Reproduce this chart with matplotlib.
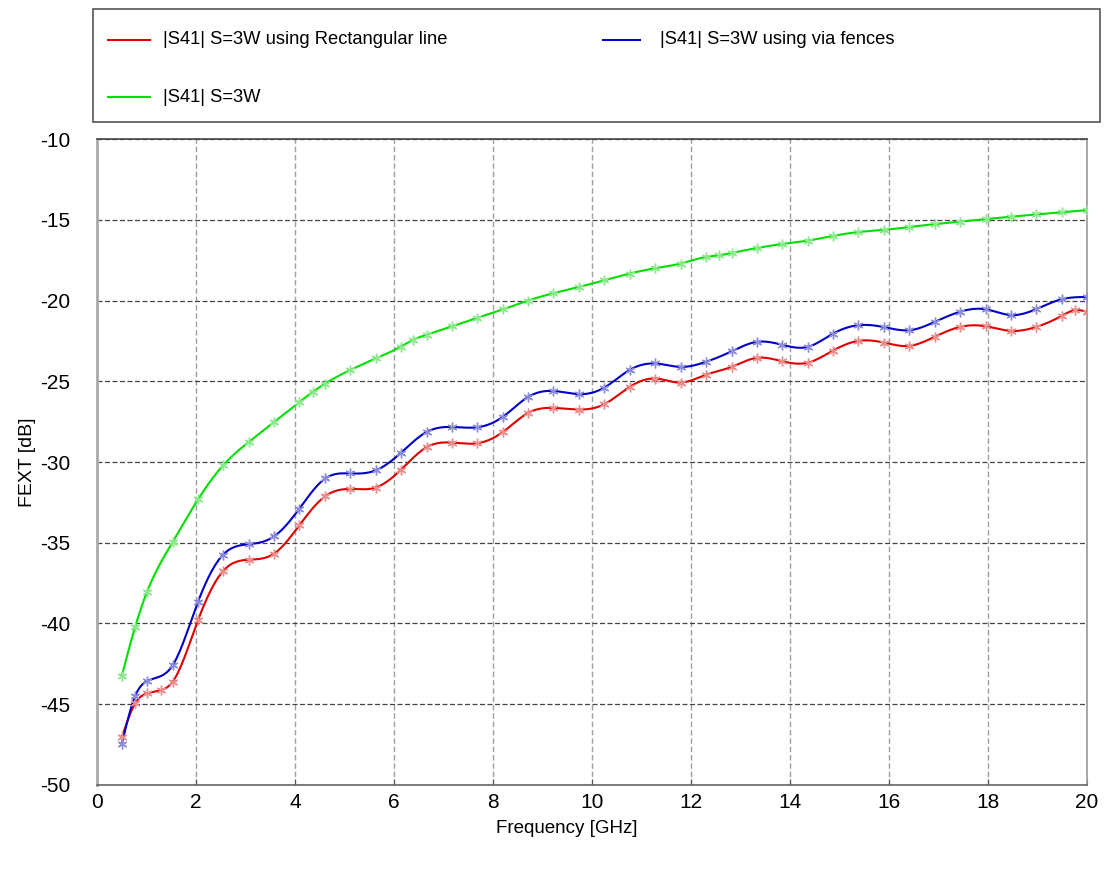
import numpy as np
import matplotlib
matplotlib.use("Agg")
import matplotlib.pyplot as plt
from matplotlib import font_manager
from matplotlib.lines import Line2D
from matplotlib.patches import Rectangle

# ---- data -------------------------------------------------------------
freq_rect = [0.50, 0.77, 1.01, 1.29, 1.53, 2.04, 2.55, 3.07, 3.58, 4.09, 4.61,
             5.12, 5.63, 6.14, 6.66, 7.17, 7.68, 8.20, 8.71, 9.22, 9.74, 10.25,
             10.76, 11.28, 11.79, 12.30, 12.82, 13.33, 13.84, 14.36, 14.87,
             15.38, 15.89, 16.41, 16.92, 17.43, 17.95, 18.46, 18.97, 19.49,
             19.75, 20.00]
s41_rect = [-47.06, -44.95, -44.33, -44.13, -43.60, -39.80, -36.74, -36.05,
            -35.67, -33.91, -32.12, -31.67, -31.58, -30.48, -29.08, -28.80,
            -28.84, -28.14, -26.96, -26.65, -26.75, -26.42, -25.35, -24.83,
            -25.08, -24.60, -24.11, -23.55, -23.76, -23.85, -23.10, -22.50,
            -22.60, -22.81, -22.25, -21.64, -21.59, -21.88, -21.64, -20.95,
            -20.60, -20.70]

freq_fence = [0.50, 0.77, 1.01, 1.53, 2.04, 2.55, 3.07, 3.58, 4.09, 4.61,
              5.12, 5.63, 6.14, 6.66, 7.17, 7.68, 8.20, 8.71, 9.22, 9.74,
              10.25, 10.76, 11.28, 11.79, 12.30, 12.82, 13.33, 13.84, 14.36,
              14.87, 15.38, 15.89, 16.41, 16.92, 17.43, 17.95, 18.46, 18.97,
              19.49, 20.00]
s41_fence = [-47.47, -44.50, -43.57, -42.58, -38.66, -35.73, -35.09, -34.60,
             -32.88, -31.02, -30.71, -30.52, -29.43, -28.14, -27.83, -27.85,
             -27.20, -25.97, -25.60, -25.80, -25.39, -24.30, -23.90, -24.11,
             -23.80, -23.15, -22.56, -22.74, -22.87, -22.05, -21.53, -21.64,
             -21.84, -21.33, -20.70, -20.54, -20.90, -20.54, -19.92, -19.78]

freq_ref = [0.50, 0.77, 1.01, 1.53, 2.04, 2.55, 3.07, 3.58, 4.09, 4.36, 4.61,
            5.12, 5.63, 6.14, 6.39, 6.66, 7.17, 7.68, 8.20, 8.71, 9.22, 9.74,
            10.25, 10.76, 11.28, 11.79, 12.30, 12.57, 12.82, 13.33, 13.84,
            14.36, 14.87, 15.38, 15.89, 16.41, 16.92, 17.43, 17.95, 18.46,
            18.97, 19.49, 20.00]
s41_ref = [-43.24, -40.21, -38.04, -34.95, -32.32, -30.20, -28.75, -27.52,
           -26.28, -25.66, -25.14, -24.30, -23.59, -22.85, -22.43, -22.12,
           -21.60, -21.08, -20.55, -20.00, -19.55, -19.16, -18.74, -18.33,
           -18.00, -17.71, -17.30, -17.20, -17.05, -16.75, -16.50, -16.29,
           -16.00, -15.76, -15.63, -15.45, -15.27, -15.12, -14.96, -14.81,
           -14.67, -14.54, -14.40]

labels = ["|S41| S=3W using Rectangular line",
          "|S41| S=3W using via fences",
          "|S41| S=3W"]
x_ticks = [0, 2, 4, 6, 8, 10, 12, 14, 16, 18, 20]
y_ticks = [-50, -45, -40, -35, -30, -25, -20, -15, -10]


def natural_spline(x, y, n=600):
    """Smooth curve through the points with a natural cubic spline."""
    x = np.asarray(x, float)
    y = np.asarray(y, float)
    h = np.diff(x)
    m = len(x)
    A = np.zeros((m, m))
    r = np.zeros(m)
    A[0, 0] = A[-1, -1] = 1.0
    for i in range(1, m - 1):
        A[i, i - 1] = h[i - 1]
        A[i, i] = 2 * (h[i - 1] + h[i])
        A[i, i + 1] = h[i]
        r[i] = 6 * ((y[i + 1] - y[i]) / h[i] - (y[i] - y[i - 1]) / h[i - 1])
    M = np.linalg.solve(A, r)
    xs = np.linspace(x[0], x[-1], n)
    k = np.clip(np.searchsorted(x, xs) - 1, 0, m - 2)
    t0 = x[k + 1] - xs
    t1 = xs - x[k]
    hk = h[k]
    ys = (M[k] * t0 ** 3 / (6 * hk) + M[k + 1] * t1 ** 3 / (6 * hk)
          + (y[k] / hk - M[k] * hk / 6) * t0
          + (y[k + 1] / hk - M[k + 1] * hk / 6) * t1)
    return xs, ys


# ---- fonts ------------------------------------------------------------
available = {f.name for f in font_manager.fontManager.ttflist}
family = ["Liberation Sans Narrow"] if "Liberation Sans Narrow" in available else ["Liberation Sans"]
plt.rcParams["font.family"] = family + ["DejaVu Sans"]
plt.rcParams["axes.unicode_minus"] = False

# ---- figure -----------------------------------------------------------
fig = plt.figure(figsize=(11.05, 8.69), dpi=100)
ax = fig.add_axes([0.0878, 0.0967, 0.8959, 0.7433])

series = [
    (freq_rect, s41_rect, "#e00000", "#e88c8c"),
    (freq_fence, s41_fence, "#0000c8", "#8c8cd8"),
    (freq_ref, s41_ref, "#00e000", "#8ce88c"),
]
asterisk = (6, 2, 0)
for fx, fy, col, mcol in series:
    xs, ys = natural_spline(fx, fy)
    ax.plot(xs, ys, color=col, lw=1.5, zorder=3)
    ax.plot(fx, fy, ls="none", marker=asterisk, ms=7, mew=1.0,
            mec=mcol, zorder=4)

ax.set_xlim(0, 20)
ax.set_ylim(-50, -10)
ax.set_xticks(x_ticks)
ax.set_yticks(y_ticks)
ax.tick_params(axis="x", direction="in", length=4, width=0.8, color="#555555",
               labelsize=15, pad=6)
ax.tick_params(axis="y", length=0, labelsize=15, pad=19.5)

# grid: dark dashed horizontals, lighter dashed verticals
ax.yaxis.grid(True, ls=(0, (4, 2)), color="#444444", lw=0.9)
ax.xaxis.grid(True, ls=(0, (4, 2)), color="#a0a0a0", lw=1.0)
ax.set_axisbelow(True)

ax.spines["top"].set_color("#444444")
ax.spines["top"].set_linewidth(1.2)
ax.spines["bottom"].set_color("#666666")
ax.spines["bottom"].set_linewidth(1.2)
ax.spines["left"].set_color("#aaaaaa")
ax.spines["left"].set_linewidth(2.0)
ax.spines["right"].set_color("#999999")
ax.spines["right"].set_linewidth(1.2)

ax.set_xlabel("Frequency [GHz]", fontsize=13.5)
ax.set_ylabel("FEXT [dB]", fontsize=14)
ax.xaxis.set_label_coords(0.474, -0.054)
ax.yaxis.set_label_coords(-0.062, 0.5)

# ---- legend box above the axes ---------------------------------------
W, H = 1105.0, 869.0
fig.add_artist(Rectangle((93 / W, 1 - 122 / H), (1100 - 93) / W, (122 - 9) / H,
                         transform=fig.transFigure, fill=False,
                         edgecolor="#555555", lw=1.2))
entries = [
    (108, 150, 163, 40, series[0][2], labels[0]),
    (603, 640, 660, 40, series[1][2], labels[1]),
    (108, 150, 163, 97, series[2][2], labels[2]),
]
for x0, x1, xt, yy, col, lab in entries:
    fig.add_artist(Line2D([x0 / W, x1 / W], [1 - yy / H, 1 - yy / H],
                          transform=fig.transFigure, color=col, lw=1.5))
    fig.text(xt / W, 1 - yy / H, lab, fontsize=13.2, va="center", ha="left")

fig.savefig("out.png", dpi=100, facecolor="white")
